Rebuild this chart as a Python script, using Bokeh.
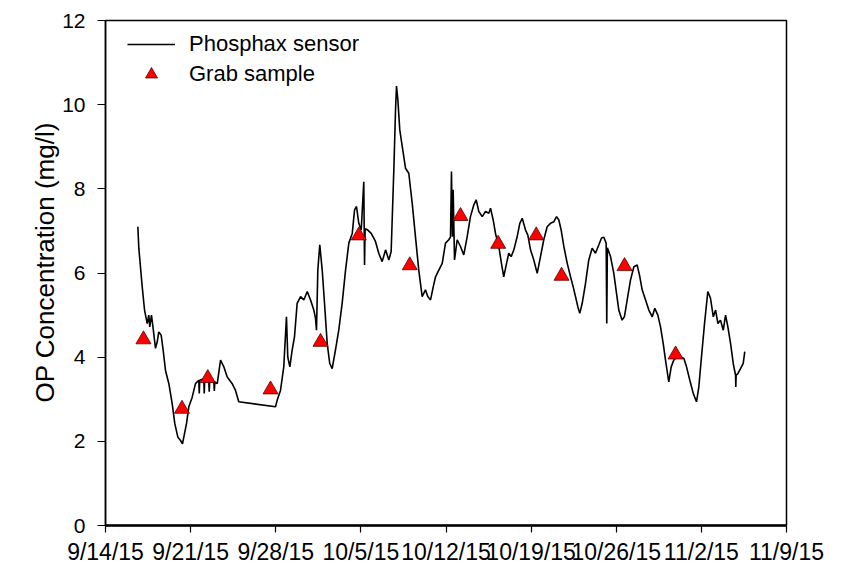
from bokeh.plotting import figure
from bokeh.models import Range1d, FixedTicker, Legend, LegendItem, Title
from bokeh.embed import file_html
from bokeh.resources import INLINE

# Days since 9/14/15
sensor_day = [2.66, 2.74, 3.02, 3.21, 3.43, 3.56, 3.64, 3.78, 3.92, 4.11, 4.25, 4.38, 4.58, 4.74,
              4.93, 5.21, 5.48, 5.70, 5.95, 6.17, 6.33, 6.44, 6.66, 6.85, 7.13, 7.40, 7.67, 7.71,
              7.75, 8.08, 8.12, 8.16, 8.49, 8.53, 8.57, 8.91, 8.95, 8.99, 9.19, 9.46, 9.73, 10.01,
              10.42, 10.69, 10.96, 13.98, 14.12, 14.39, 14.66, 14.88, 14.99, 15.16, 15.35, 15.54,
              15.76, 16.04, 16.31, 16.59, 16.86, 17.13, 17.27, 17.35, 17.46, 17.62, 17.82, 18.01,
              18.23, 18.44, 18.64, 18.91, 19.18, 19.46, 19.74, 20.01, 20.29, 20.48, 20.64, 20.83,
              21.03, 21.24, 21.30, 21.35, 21.57, 21.85, 22.20, 22.47, 22.75, 23.03, 23.30, 23.49,
              23.71, 23.85, 23.93, 24.04, 24.20, 24.40, 24.67, 24.94, 25.22, 25.49, 25.76, 26.04,
              26.31, 26.50, 26.73, 26.95, 27.14, 27.41, 27.69, 27.96, 28.23, 28.37, 28.45, 28.53,
              28.59, 28.70, 28.92, 29.19, 29.46, 29.74, 30.01, 30.29, 30.48, 30.70, 30.98, 31.25,
              31.52, 31.66, 31.88, 32.07, 32.34, 32.56, 32.75, 32.98, 33.16, 33.36, 33.58, 33.85,
              34.07, 34.27, 34.54, 34.73, 34.95, 35.22, 35.50, 35.77, 36.04, 36.32, 36.59, 36.87,
              37.09, 37.28, 37.47, 37.69, 37.97, 38.24, 38.46, 38.65, 38.84, 39.00, 39.20, 39.47,
              39.74, 40.02, 40.29, 40.57, 40.79, 40.98, 41.17, 41.22, 41.27, 41.53, 41.80, 42.04,
              42.21, 42.48, 42.67, 42.90, 43.17, 43.45, 43.72, 43.94, 44.13, 44.41, 44.68, 44.96,
              45.17, 45.42, 45.64, 45.86, 46.05, 46.32, 46.52, 46.73, 47.01, 47.28, 47.56, 47.78,
              48.05, 48.33, 48.60, 48.79, 49.01, 49.26, 49.53, 49.75, 49.98, 50.17, 50.36, 50.57,
              50.80, 50.99, 51.18, 51.40, 51.62, 51.81, 51.83, 51.86, 52.00, 52.22, 52.44, 52.57]
sensor_op = [7.10, 6.59, 5.67, 5.12, 4.80, 5.00, 4.72, 5.00, 4.68, 4.21, 4.36, 4.60, 4.52, 4.17,
             3.69, 3.37, 2.90, 2.42, 2.10, 2.02, 1.94, 2.10, 2.42, 2.82, 3.05, 3.37, 3.45, 3.14,
             3.45, 3.49, 3.14, 3.49, 3.45, 3.18, 3.45, 3.41, 3.20, 3.41, 3.37, 3.93, 3.77, 3.53,
             3.37, 3.21, 2.94, 2.82, 2.98, 3.21, 3.77, 4.96, 4.00, 3.77, 4.17, 4.48,
             5.28, 5.44, 5.36, 5.56, 5.36, 5.12, 4.92, 4.64, 6.07, 6.67, 6.07, 5.28,
             4.33, 3.85, 3.73, 4.17, 4.64, 5.28, 6.07, 6.71, 6.94, 7.50, 7.58, 7.18,
             7.02, 8.17, 6.19, 7.05, 7.02, 6.94, 6.75, 6.47, 6.27, 6.55, 6.31, 6.51,
             8.45, 9.88, 10.44, 10.12, 9.40, 9.01, 8.49, 8.37, 7.66, 6.86, 6.07, 5.44,
             5.60, 5.44, 5.36, 5.67, 5.91, 6.07, 6.23, 6.71, 6.79, 6.86, 8.41, 6.86,
             7.98, 6.31, 6.79, 6.63, 6.43, 6.86, 7.34, 7.62, 7.74, 7.46, 7.34, 7.46,
             7.42, 7.54, 7.26, 6.94, 6.63, 6.23, 5.91, 6.23, 6.47, 6.39, 6.55, 6.86,
             7.18, 7.30, 7.02, 6.90, 6.55, 6.31, 5.99, 6.39, 6.79, 7.10, 7.18, 7.22,
             7.34, 7.26, 7.02, 6.63, 6.23, 5.91, 5.67, 5.44, 5.20, 5.04, 5.28, 5.75,
             6.31, 6.59, 6.47, 6.67, 6.83, 6.85, 6.71, 4.80, 6.60, 6.39, 5.99, 5.48,
             5.12, 4.88, 4.96, 5.36, 5.83, 6.15, 6.19, 5.91, 5.60, 5.36, 5.12, 4.96,
             5.16, 5.00, 4.72, 4.33, 3.93, 3.41, 3.77, 3.93, 4.01, 4.01, 3.97, 3.77,
             3.45, 3.14, 2.94, 3.29, 4.01, 4.80, 5.56, 5.40, 4.96, 5.12, 4.80, 4.88,
             4.64, 5.00, 4.72, 4.33, 3.85, 3.57, 3.29, 3.57, 3.61, 3.73, 3.85, 4.13]

grab_day = [3.12, 6.29, 8.41, 13.57, 17.68, 20.83, 25.02, 29.19, 32.29, 35.42, 37.50, 42.68, 46.88]
grab_op = [4.42, 2.77, 3.50, 3.23, 4.36, 6.89, 6.18, 7.35, 6.69, 6.89, 5.93, 6.16, 4.06]

tick_days = [0, 7, 14, 21, 28, 35, 42, 49, 56]
tick_labels = ["9/14/15", "9/21/15", "9/28/15", "10/5/15", "10/12/15",
               "10/19/15", "10/26/15", "11/2/15", "11/9/15"]
y_ticks = [0, 2, 4, 6, 8, 10, 12]

FONT = "Liberation Sans"

p = figure(width=846, height=567, output_backend="svg", toolbar_location=None,
           x_range=Range1d(0, 56), y_range=Range1d(0, 12),
           min_border_left=105, min_border_right=60, min_border_top=20, min_border_bottom=42)
p.background_fill_color = "white"
p.border_fill_color = "white"
p.outline_line_color = "black"
p.outline_line_width = 1.5
p.grid.visible = False

line = p.line(sensor_day, sensor_op, line_color="black", line_width=1.6)
tri = p.scatter(grab_day, grab_op, marker="triangle", size=15, fill_color="#ff0000",
                line_color="#5a0000", line_width=0.8)

xa = p.xaxis[0]
xa.ticker = FixedTicker(ticks=tick_days)
xa.major_label_overrides = {d: l for d, l in zip(tick_days, tick_labels)}
ya = p.yaxis[0]
ya.ticker = FixedTicker(ticks=y_ticks)

for ax in (xa, ya):
    ax.major_label_text_color = "black"
    ax.minor_tick_line_color = None
    ax.major_tick_in = 0
    ax.major_tick_line_color = "black"
    ax.axis_line_color = "black"
xa.major_label_text_font = FONT
xa.major_label_text_font_size = "23px"
xa.major_tick_out = 7
xa.major_label_standoff = 6
ya.major_label_text_font = FONT
ya.major_label_text_font_size = "21px"
ya.major_tick_out = 8
ya.major_label_standoff = 12
xa.axis_line_width = 2.5
ya.axis_line_width = 1.5
xa.major_tick_line_width = 1.2
ya.major_tick_line_width = 1.2

ytitle = Title(text="OP Concentration (mg/l)", align="left", offset=123,
               text_font=FONT, text_font_size="26px", text_font_style="normal",
               text_color="black", standoff=0)
p.add_layout(ytitle, "left")

legend = Legend(items=[LegendItem(label="Phosphax sensor", renderers=[line]),
                       LegendItem(label="Grab sample", renderers=[tri])],
                location=(22, 436), margin=0, padding=5, spacing=0,
                glyph_width=48, glyph_height=30, label_height=30, label_standoff=14,
                label_text_font=FONT, label_text_font_size="22px", label_text_color="black",
                border_line_color=None, background_fill_alpha=0)
p.add_layout(legend, "center")

open("out.html", "w").write(file_html(p, INLINE))
